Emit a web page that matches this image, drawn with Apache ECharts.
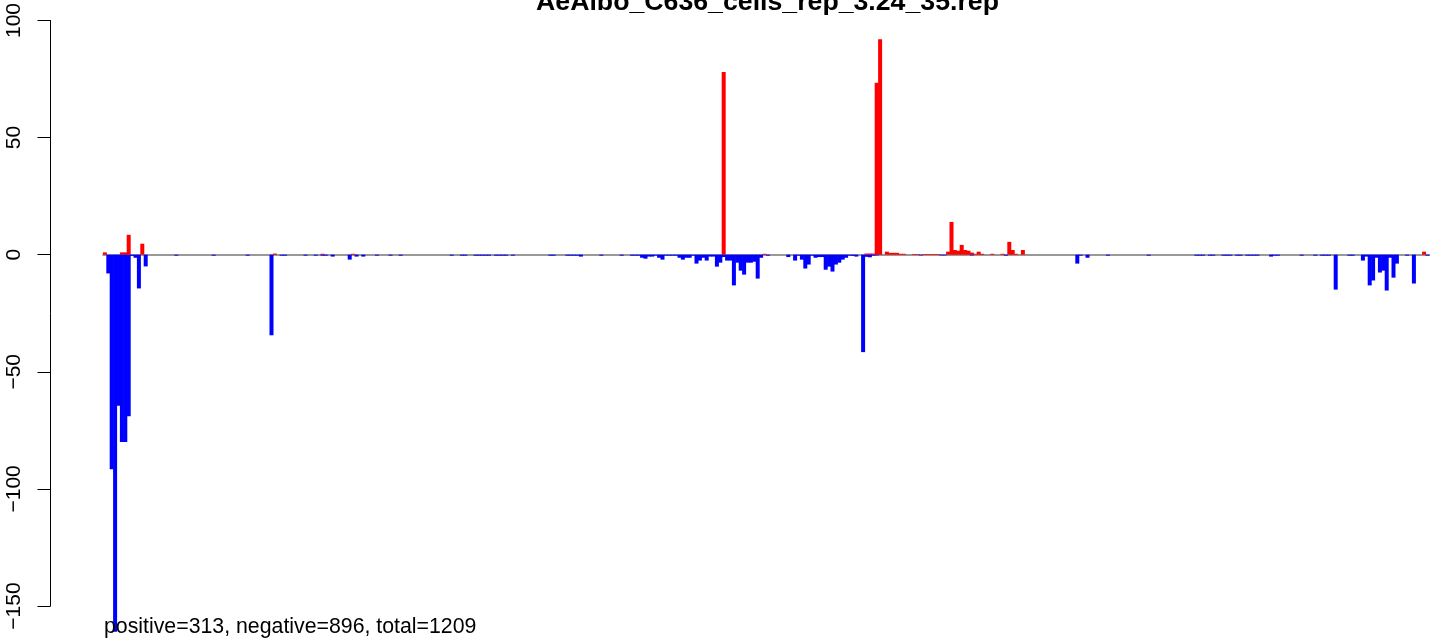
<!DOCTYPE html>
<html><head><meta charset="utf-8">
<script src="https://cdn.jsdelivr.net/npm/echarts@6/dist/echarts.min.js"></script>
<style>html,body{margin:0;padding:0;background:#fff}#c{width:1441px;height:639px}</style>
</head><body><div id="c"></div>
<script>
const TITLE = 'AeAlbo_C636_cells_rep_3.24_35.rep';
const NOTE = 'positive=313, negative=896, total=1209';
const N_POS = 390;
const yTicks = [-150, -100, -50, 0, 50, 100];

// positive (red) bars: position index -> value
const posIdx = [0, 5, 6, 7, 11, 50, 64, 73, 182, 194, 224, 225, 226, 227, 228, 230, 231, 232, 233, 234, 235,
  238, 239, 241, 242, 243, 244, 245, 248, 249, 250, 251, 252, 253, 254, 255, 256, 257, 258, 261, 264, 266, 267, 268, 270, 388];
const posVal = [1.0, 1.0, 1.0, 8.5, 4.7, 0.5, 0.4, 0.4, 78, 0.4, 0.5, 0.5, 0.5, 73.4, 92, 1.3, 0.8, 0.8, 0.8, 0.4, 0.4,
  0.3, 0.3, 0.3, 0.3, 0.3, 0.3, 0.3, 1.3, 14, 2, 1.7, 4.2, 2, 1.7, 0.9, 0.4, 1.3, 0.4, 0.4, 0.4, 5.5, 2, 0.4, 2, 1.3];

// negative (blue) bars: position index -> value
const negIdx = [1, 2, 3, 4, 5, 6, 7, 8, 9, 10, 12, 21, 32, 42, 49, 52, 53, 59, 62, 64, 65, 67, 72, 74, 76, 80, 84, 87,
  102, 105, 106, 109, 110, 111, 112, 113, 115, 116, 117, 118, 120, 131, 132, 136, 137, 138, 139, 140, 146, 152,
  155, 156, 157, 158, 159, 160, 161, 162, 163, 164, 165, 166, 167, 168, 169, 170, 171, 172, 173, 174, 175, 176, 177,
  178, 179, 180, 181, 182, 183, 184, 185, 186, 187, 188, 189, 190, 191, 192, 193, 195, 201, 203, 204, 205, 206, 207,
  208, 209, 210, 211, 212, 213, 214, 215, 216, 217, 218, 219, 220, 221, 223, 224, 225, 226, 227, 240, 246, 247, 255,
  265, 286, 287, 289, 295, 307, 321, 322, 323, 325, 326, 329, 330, 331, 333, 334, 336, 337, 338, 339, 343, 344, 345,
  352, 356, 358, 359, 360, 362, 366, 367, 370, 371, 372, 373, 374, 375, 376, 377, 378, 379, 380, 383, 385, 389];
const negVal = [-8, -91.6, -161, -64.5, -80, -80, -69, -0.5, -1.3, -14.4, -5, -0.4, -0.4, -0.4, -34.4, -0.4, -0.4, -0.4, -0.4, -0.4, -0.4, -0.8, -2.1, -0.8, -0.8, -0.4, -0.4, -0.4,
  -0.4, -0.4, -0.4, -0.4, -0.4, -0.4, -0.4, -0.4, -0.4, -0.4, -0.4, -0.4, -0.4, -0.4, -0.4, -0.4, -0.4, -0.4, -0.4, -0.8, -0.4, -0.4,
  -0.4, -0.4, -0.4, -1.3, -1.7, -0.8, -0.8, -0.4, -1.3, -2.1, -0.4, -0.4, -0.4, -0.4, -1.3, -2.1, -1.3, -1.3, -0.4, -3.8, -2.5, -1.3, -2.5,
  -0.8, -0.8, -5.1, -3.4, -1.0, -2.5, -2.5, -13.1, -3.4, -6.8, -8.5, -3.4, -3.4, -3.0, -10.2, -1.3, -0.4, -1.0, -2.5, -0.4, -2.1, -5.9, -4.2,
  -0.4, -1.3, -1.0, -1.0, -6.4, -5.1, -7.2, -4.2, -3.4, -2.1, -1.3, -0.4, -0.5, -0.8, -41.6, -0.9, -1.1, -0.4, -0.3, -0.3, -0.3, -0.3, -0.3,
  -0.4, -3.8, -0.4, -1.3, -0.4, -0.4, -0.4, -0.4, -0.4, -0.4, -0.4, -0.4, -0.4, -0.4, -0.4, -0.4, -0.4, -0.4, -0.4, -0.4, -0.8, -0.4, -0.4,
  -0.4, -0.4, -0.4, -0.4, -0.4, -14.9, -0.4, -0.4, -2.5, -0.8, -13.1, -11, -1.3, -7.6, -6.8, -15.3, -1.3, -9.8, -3.8, -0.4, -12.3, -0.4];

const categories = Array.from({length: N_POS}, (_, i) => String(i + 1));
function expand(idx, vals) {
  const out = new Array(N_POS).fill('-');
  idx.forEach((k, j) => { out[k] = vals[j]; });
  return out;
}
const posData = expand(posIdx, posVal);
const negData = expand(negIdx, negVal);

const FONT = 'Liberation Sans, Arial, Helvetica, sans-serif';
const chart = echarts.init(document.getElementById('c'), null, {renderer: 'canvas'});
chart.setOption({
  animation: false,
  backgroundColor: '#ffffff',
  grid: {left: 103.2, right: 11.8, top: 17, bottom: 33, containLabel: false},
  xAxis: {
    type: 'category', data: categories,
    axisTick: {show: false}, axisLabel: {show: false}, splitLine: {show: false},
    axisLine: {show: true, onZero: true, lineStyle: {color: '#999999', width: 2}}
  },
  yAxis: {
    type: 'value', min: -150, max: 100, interval: 50, offset: 52.7,
    splitLine: {show: false},
    axisLine: {show: true, lineStyle: {color: '#000', width: 1}},
    axisTick: {show: true, length: 13, lineStyle: {color: '#000', width: 1}},
    axisLabel: {
      rotate: 90, margin: 26, color: '#000', fontSize: 21, fontFamily: FONT,
      customValues: yTicks,
      formatter: v => String(v).replace('-', '\u2212')
    }
  },
  series: [
    {type: 'bar', name: 'positive', data: posData, itemStyle: {color: '#FF0000'},
     barWidth: 4, barGap: '-100%', barCategoryGap: '0%', clip: false, z: 3},
    {type: 'bar', name: 'negative', data: negData, itemStyle: {color: '#0000FF'},
     barWidth: 4, barGap: '-100%', barCategoryGap: '0%', clip: false, z: 3}
  ],
  graphic: [
    {type: 'text', x: 767.5, y: 2.5, z: 10,
     style: {text: TITLE, font: 'bold 26.7px ' + FONT, fill: '#000', textAlign: 'center', textVerticalAlign: 'middle'}},
    {type: 'text', x: 104, y: 627.5, z: 10,
     style: {text: NOTE, font: '21.3px ' + FONT, fill: '#000', textAlign: 'left', textVerticalAlign: 'middle'}}
  ]
});
</script></body></html>
